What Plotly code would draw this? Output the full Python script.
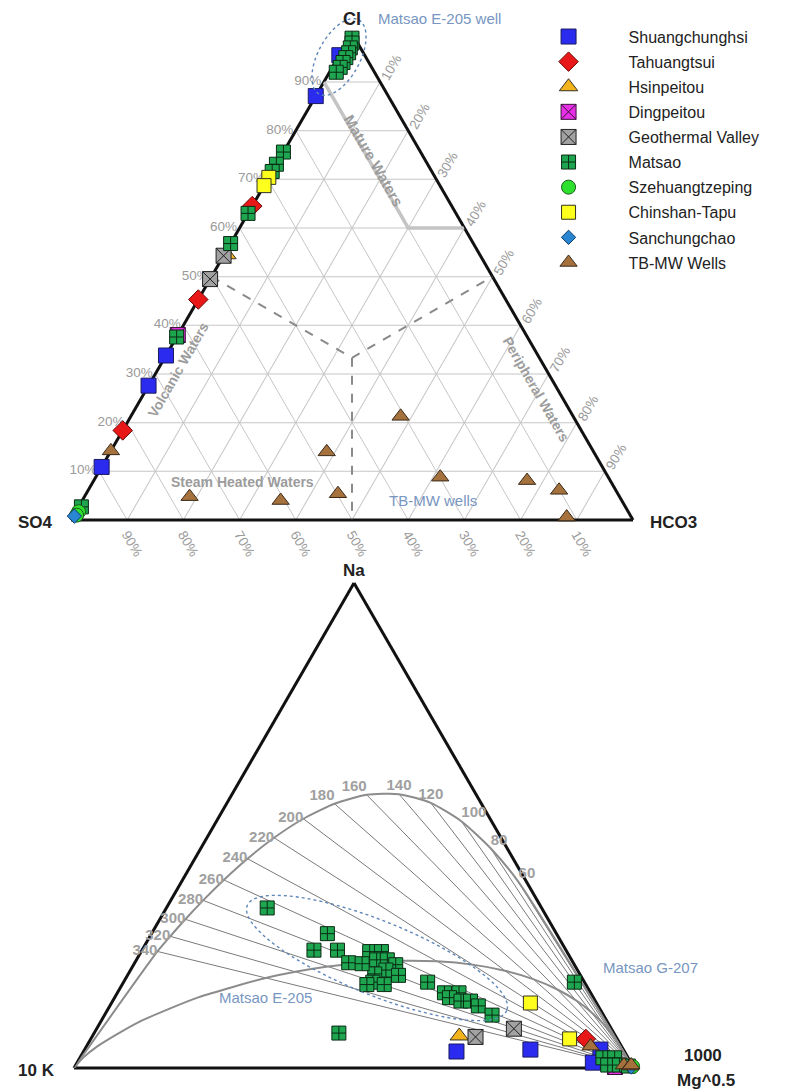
import math
import plotly.graph_objects as go

W, H = 794, 1091
FONT = "Liberation Sans, Arial, sans-serif"

# ---------------- Cl - SO4 - HCO3 (relative %) ----------------
shuang_cl = [95.5, 87.1, 33.8, 27.6, 10.9]
shuang_so4 = [4.5, 12.9, 66.2, 72.4, 89.1]
shuang_hco3 = [0.0, 0.0, 0.0, 0.0, 0.0]

tahuang_cl = [64.5, 45.3, 18.4]
tahuang_so4 = [35.5, 54.7, 81.6]
tahuang_hco3 = [0.0, 0.0, 0.0]

hsin_cl = [54.5]
hsin_so4 = [45.0]
hsin_hco3 = [0.5]

ding_cl = [38.0]
ding_so4 = [62.0]
ding_hco3 = [0.0]

geo_cl = [54.3, 49.5]
geo_so4 = [45.7, 50.5]
geo_hco3 = [0.0, 0.0]

matsao_cl = [99.0, 98.0, 97.0, 96.0, 95.0, 94.0, 93.0, 92.0, 75.6, 73.1, 71.6, 63.0, 56.8, 37.6, 2.7]
matsao_so4 = [0.5, 1.0, 1.8, 2.6, 3.6, 4.6, 5.6, 6.8, 24.4, 26.9, 28.4, 37.0, 43.2, 62.4, 96.8]
matsao_hco3 = [0.5, 1.0, 1.2, 1.4, 1.4, 1.4, 1.4, 1.2, 0.0, 0.0, 0.0, 0.0, 0.0, 0.0, 0.5]

szeh_cl = [1.7, 1.0]
szeh_so4 = [97.8, 98.5]
szeh_hco3 = [0.5, 0.5]

chin_cl = [70.4, 68.7]
chin_so4 = [29.6, 31.3]
chin_hco3 = [0.0, 0.0]

sanch_cl = [0.8]
sanch_so4 = [99.0]
sanch_hco3 = [0.2]

tbmw_cl = [14.2, 14.0, 4.8, 4.0, 5.4, 21.3, 8.8, 8.1, 6.1, 0.6]
tbmw_so4 = [85.8, 47.5, 76.5, 60.7, 49.8, 30.7, 29.9, 14.8, 10.1, 11.5]
tbmw_hco3 = [0.0, 38.5, 18.7, 35.3, 44.8, 48.0, 61.3, 77.1, 83.8, 87.9]

# ---------------- Na/1000 - K/100 - Mg^0.5 (relative %) ----------------
shuang_na = [3.4, 3.8, 3.8, 1.1]
shuang_k = [30.0, 16.6, 4.1, 6.8]
shuang_mg = [66.6, 79.6, 92.1, 92.1]

tahuang_na = [6.0]
tahuang_k = [5.6]
tahuang_mg = [88.4]

hsin_na = [6.6]
hsin_k = [27.9]
hsin_mg = [65.5]

ding_na = [0.2]
ding_k = [3.3]
ding_mg = [96.5]

geo_na = [6.4, 8.1]
geo_k = [25.1, 17.4]
geo_mg = [68.5, 74.5]

matsao_na = [33.0, 27.7, 24.3, 24.3, 21.7, 24.0, 24.0, 22.3, 22.3, 21.3, 20.2, 19.4, 19.1, 17.7, 17.2, 21.5,
             17.2, 17.7, 15.5, 15.5, 14.5, 13.8, 13.8, 12.8, 10.9, 7.2, 17.7, 2.1, 2.1, 0.6, 0.6, 0.4]
matsao_k = [49.0, 40.9, 45.0, 40.8, 40.1, 35.2, 33.1, 34.8, 32.9, 31.9, 34.2, 36.6, 32.5, 37.8, 36.0, 37.8,
            39.1, 28.0, 26.1, 23.5, 25.7, 24.0, 22.3, 21.4, 19.9, 49.1, 1.8, 4.5, 2.4, 4.4, 2.3, 0.8]
matsao_mg = [18.0, 31.4, 30.7, 34.9, 38.2, 40.8, 42.9, 42.9, 44.8, 46.8, 45.6, 44.0, 48.4, 44.5, 46.8, 40.7,
             43.7, 54.3, 58.4, 61.0, 59.8, 62.2, 63.9, 65.8, 69.2, 43.7, 80.5, 93.4, 95.5, 95.0, 97.1, 98.8]

szeh_na = [0.3]
szeh_k = [0.1]
szeh_mg = [99.6]

chin_na = [13.4, 6.0]
chin_k = [11.8, 8.5]
chin_mg = [74.8, 85.5]

sanch_na = [0.2]
sanch_k = [0.4]
sanch_mg = [99.4]

tbmw_na = [4.5, 0.6, 0.4, 0.6]
tbmw_k = [5.5, 1.5, 0.5, 0.2]
tbmw_mg = [90.0, 97.9, 99.1, 99.2]

# field boundaries of the anion triangle (Cl, SO4, HCO3)
zone_cl = [50.0, 33.33, 50.0]
zone_so4 = [50.0, 33.33, 0.0]
zone_hco3 = [0.0, 33.34, 50.0]
zone_v_cl = [33.33, 0.0]
zone_v_so4 = [33.33, 50.0]
zone_v_hco3 = [33.34, 50.0]
mature_cl = [90.0, 60.0, 60.0]
mature_so4 = [10.0, 10.0, 0.0]
mature_hco3 = [0.0, 30.0, 40.0]

# Giggenbach (1988) isotherms, degrees C
TEMPS = [340, 320, 300, 280, 260, 240, 220, 200, 180, 160, 140, 120, 100, 80, 60]
HOT_TEMPS = [1000, 700, 500, 400]
IMMATURE_MI = 2.0

TICKS = [10, 20, 30, 40, 50, 60, 70, 80, 90]
TICK_TEXT = ["10%", "20%", "30%", "40%", "50%", "60%", "70%", "80%", "90%"]


def full_equilibrium(t):
    tk = t + 273.15
    na_k = 10 ** (1390.0 / tk - 1.75)
    k2_mg = 10 ** (14.0 - 4410.0 / tk)
    k = 100.0
    v = (k * na_k / 1000.0, k / 100.0, math.sqrt(k * k / k2_mg))
    s = sum(v)
    return tuple(100 * x / s for x in v)


def partial_equilibrium(t):
    tk = t + 273.15
    l_nk = 1390.0 / tk - 1.75
    l_km = (IMMATURE_MI - l_nk) / 0.315
    k = 100.0
    v = (k * 10 ** l_nk / 1000.0, k / 100.0, math.sqrt(k * k / 10 ** l_km))
    s = sum(v)
    return tuple(100 * x / s for x in v)


K_CORNER = (0.0, 100.0, 0.0)
MG_CORNER = (0.0, 0.0, 100.0)

full_pts = [K_CORNER] + [full_equilibrium(t) for t in TEMPS] + [MG_CORNER]
part_pts = [K_CORNER] + [partial_equilibrium(t) for t in HOT_TEMPS + TEMPS] + [MG_CORNER]
iso_pts = []
for t in TEMPS:
    iso_pts += [full_equilibrium(t), MG_CORNER, (None, None, None)]
lab_pts = [full_equilibrium(t) for t in TEMPS]
lab_pos = (["middle left"] * 8 + ["top left"] * 2 + ["top center"] * 2 + ["top right"] * 3)


def paper(x, y):
    return x / W, 1 - y / H


def col(pts, i):
    return [p[i] for p in pts]


fig = go.Figure()

# anion triangle field lines
fig.add_trace(go.Scatterternary(a=zone_cl, b=zone_so4, c=zone_hco3, mode="lines", subplot="ternary",
                                line=dict(color="#8a8a8a", width=2, dash="dash"), showlegend=False, hoverinfo="skip"))
fig.add_trace(go.Scatterternary(a=zone_v_cl, b=zone_v_so4, c=zone_v_hco3, mode="lines", subplot="ternary",
                                line=dict(color="#8a8a8a", width=2, dash="dash"), showlegend=False, hoverinfo="skip"))
fig.add_trace(go.Scatterternary(a=mature_cl, b=mature_so4, c=mature_hco3, mode="lines", subplot="ternary",
                                line=dict(color="#c4c4c4", width=3.5), showlegend=False, hoverinfo="skip"))

# cation triangle equilibrium curves and isotherms
fig.add_trace(go.Scatterternary(a=col(iso_pts, 0), b=col(iso_pts, 1), c=col(iso_pts, 2), mode="lines",
                                subplot="ternary2", line=dict(color="#7a7a7a", width=1),
                                showlegend=False, hoverinfo="skip"))
fig.add_trace(go.Scatterternary(a=col(full_pts, 0), b=col(full_pts, 1), c=col(full_pts, 2), mode="lines",
                                subplot="ternary2", line=dict(color="#8c8c8c", width=2, shape="spline", smoothing=0.6),
                                showlegend=False, hoverinfo="skip"))
fig.add_trace(go.Scatterternary(a=col(part_pts, 0), b=col(part_pts, 1), c=col(part_pts, 2), mode="lines",
                                subplot="ternary2", line=dict(color="#8c8c8c", width=2, shape="spline", smoothing=0.6),
                                showlegend=False, hoverinfo="skip"))
fig.add_trace(go.Scatterternary(a=col(lab_pts, 0), b=col(lab_pts, 1), c=col(lab_pts, 2), mode="text",
                                subplot="ternary2", text=[str(t) for t in TEMPS], textposition=lab_pos,
                                textfont=dict(family=FONT, size=15, color="#a0a0a0", weight="bold"),
                                cliponaxis=False, showlegend=False, hoverinfo="skip"))

sites = [
    ("Shuangchunghsi", (shuang_cl, shuang_so4, shuang_hco3), (shuang_na, shuang_k, shuang_mg),
     dict(symbol="square", size=15, color="#2b2bf0", line=dict(color="#1a1a60", width=1))),
    ("Tahuangtsui", (tahuang_cl, tahuang_so4, tahuang_hco3), (tahuang_na, tahuang_k, tahuang_mg),
     dict(symbol="diamond", size=15, color="#e81818", line=dict(color="#6a0a0a", width=1))),
    ("Hsinpeitou", (hsin_cl, hsin_so4, hsin_hco3), (hsin_na, hsin_k, hsin_mg),
     dict(symbol="triangle-up", size=16, color="#f2b31c", line=dict(color="#3a3020", width=1))),
    ("Dingpeitou", (ding_cl, ding_so4, ding_hco3), (ding_na, ding_k, ding_mg),
     dict(symbol="square-x", size=15, color="#e630e6", line=dict(color="#3a103a", width=1))),
    ("Geothermal Valley", (geo_cl, geo_so4, geo_hco3), (geo_na, geo_k, geo_mg),
     dict(symbol="square-x", size=15, color="#a2a2a2", line=dict(color="#202020", width=1))),
    ("Matsao", (matsao_cl, matsao_so4, matsao_hco3), (matsao_na, matsao_k, matsao_mg),
     dict(symbol="square-cross", size=14, color="#1ea54f", line=dict(color="#0b2a14", width=1))),
    ("Szehuangtzeping", (szeh_cl, szeh_so4, szeh_hco3), (szeh_na, szeh_k, szeh_mg),
     dict(symbol="circle", size=14, color="#2ee02e", line=dict(color="#1a5a1a", width=1))),
    ("Chinshan-Tapu", (chin_cl, chin_so4, chin_hco3), (chin_na, chin_k, chin_mg),
     dict(symbol="square", size=14, color="#ffff1e", line=dict(color="#333320", width=1))),
    ("Sanchungchao", (sanch_cl, sanch_so4, sanch_hco3), (sanch_na, sanch_k, sanch_mg),
     dict(symbol="diamond", size=11, color="#2a86d0", line=dict(color="#0d3a6a", width=1))),
    ("TB-MW Wells", (tbmw_cl, tbmw_so4, tbmw_hco3), (tbmw_na, tbmw_k, tbmw_mg),
     dict(symbol="triangle-up", size=15, color="#a5713c", line=dict(color="#3a2a1a", width=1))),
]

for name, (cl, so4, hco3), (na, k, mg), mk in sites:
    fig.add_trace(go.Scatterternary(a=cl, b=so4, c=hco3, mode="markers", subplot="ternary", name=name,
                                    legendgroup=name, marker=mk, cliponaxis=False, hoverinfo="skip"))
    fig.add_trace(go.Scatterternary(a=na, b=k, c=mg, mode="markers", subplot="ternary2", name=name,
                                    legendgroup=name, showlegend=False, marker=mk, cliponaxis=False,
                                    hoverinfo="skip"))

tick_font = dict(family=FONT, size=13.5, color="#9a9a9a")


def anion_axis(angle):
    return dict(title=dict(text=""), tickmode="array", tickvals=TICKS, ticktext=TICK_TEXT,
                tickfont=tick_font, tickangle=angle,
                showgrid=True, gridcolor="#c6c6c6", gridwidth=1, linecolor="#111", linewidth=3,
                ticks="", layer="below traces", min=0)


def cation_axis():
    return dict(title=dict(text=""), showgrid=False, showticklabels=False, ticks="",
                linecolor="#111", linewidth=3, layer="below traces", min=0)


def label(text, x, y, size=15, color="#222", angle=0, xanchor="center"):
    px_, py_ = paper(x, y)
    return dict(text=text, x=px_, y=py_, xref="paper", yref="paper", showarrow=False, textangle=angle,
                xanchor=xanchor, yanchor="middle", font=dict(family=FONT, size=size, color=color))


def ellipse_path(cx, cy, rx, ry, deg, n=96):
    th = math.radians(deg)
    pts = []
    for i in range(n):
        t = 2 * math.pi * i / n
        ex, ey = rx * math.cos(t), ry * math.sin(t)
        pts.append(paper(cx + ex * math.cos(th) - ey * math.sin(th),
                         cy + ex * math.sin(th) + ey * math.cos(th)))
    return "M " + " L ".join(f"{x:.5f},{y:.5f}" for x, y in pts) + " Z"


GRAY_TXT = "#9c9c9c"
BLUE_TXT = "#7796c0"
annotations = [
    label("<b>Cl</b>", 352, 19, size=18),
    label("<b>SO4</b>", 55, 522, size=17, xanchor="right"),
    label("<b>HCO3</b>", 648, 522, size=17, xanchor="left"),
    label("<b>Na</b>", 354, 570, size=17),
    label("<b>10 K</b>", 57, 1070, size=17, xanchor="right"),
    label("<b>1000</b>", 703, 1055, size=17),
    label("<b>Mg^0.5</b>", 706, 1080, size=17),
    label("Matsao E-205 well", 376, 18, size=15, color=BLUE_TXT, xanchor="left"),
    label("TB-MW wells", 433, 500, size=15, color=BLUE_TXT),
    label("Matsao E-205", 265, 997, size=15, color=BLUE_TXT),
    label("Matsao G-207", 650, 967, size=15, color=BLUE_TXT),
    label("<b>Mature Waters</b>", 374, 160, size=15, color=GRAY_TXT, angle=60),
    label("<b>Volcanic Waters</b>", 178, 370, size=14, color=GRAY_TXT, angle=-60),
    label("<b>Peripheral Waters</b>", 536, 389, size=14, color=GRAY_TXT, angle=60),
    label("<b>Steam Heated Waters</b>", 243, 482, size=14, color=GRAY_TXT),
]

shapes = [
    dict(type="path", xref="paper", yref="paper", path=ellipse_path(339, 57, 42, 21, -62),
         line=dict(color="#5f86b8", width=1.4, dash="dot")),
    dict(type="path", xref="paper", yref="paper", path=ellipse_path(377, 958, 140, 37, 22),
         line=dict(color="#5f86b8", width=1.4, dash="dot")),
]

fig.update_layout(
    width=W, height=H,
    margin=dict(l=0, r=0, t=0, b=0),
    paper_bgcolor="white",
    font=dict(family=FONT),
    ternary=dict(sum=100, bgcolor="white",
                 domain=dict(x=[71 / W, 633 / W], y=[1 - 520 / H, 1 - 33.3 / H]),
                 aaxis=anion_axis(0), baxis=anion_axis(60), caxis=anion_axis(-60)),
    ternary2=dict(sum=100, bgcolor="white",
                  domain=dict(x=[74 / W, 634 / W], y=[1 - 1068 / H, 1 - 583 / H]),
                  aaxis=cation_axis(), baxis=cation_axis(), caxis=cation_axis()),
    legend=dict(x=0.6405, y=0.982, xanchor="left", yanchor="top", itemwidth=110,
                font=dict(family=FONT, size=16, color="#222"), traceorder="grouped",
                tracegroupgap=1.3, bgcolor="rgba(0,0,0,0)"),
    annotations=annotations,
    shapes=shapes,
)

fig.write_html("out.html")
